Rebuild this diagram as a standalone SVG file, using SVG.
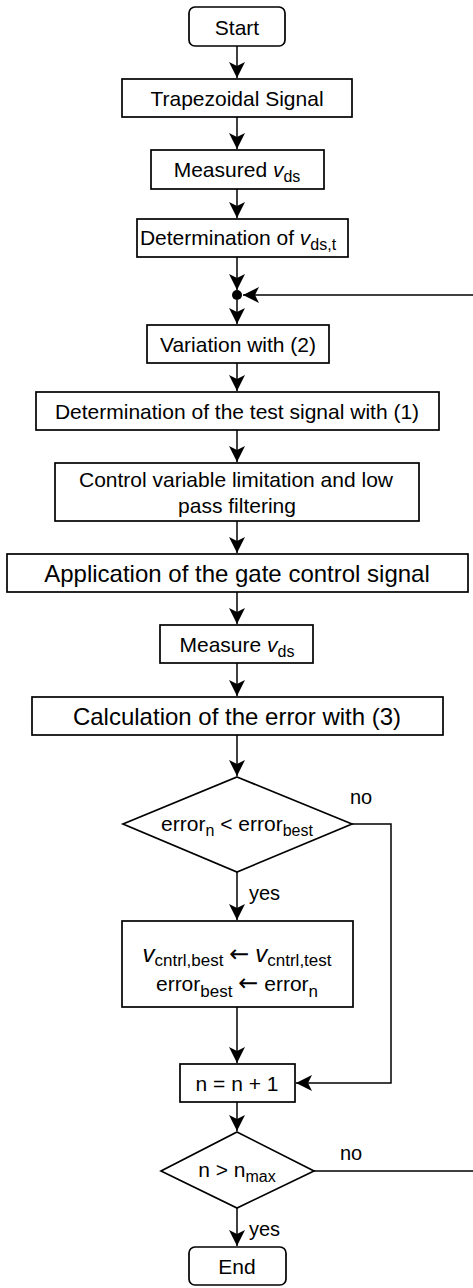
<svg xmlns="http://www.w3.org/2000/svg" width="473" height="1288" viewBox="0 0 473 1288">
<defs>
<style>
.box{fill:#fff;stroke:#000;stroke-width:1.7}
.ln{fill:none;stroke:#000;stroke-width:1.5}
.t{font-family:"Liberation Sans",Arial,"DejaVu Sans",sans-serif;font-size:21px;fill:#000;text-anchor:middle}
.big{font-size:24px}
.l{font-family:"Liberation Sans",Arial,"DejaVu Sans",sans-serif;font-size:20px;fill:#000}
.i{font-style:italic}
.s{font-size:16px}
.s2{font-size:17px}
.ar{font-family:"DejaVu Sans",sans-serif;font-size:24px}
</style>
<marker id="ah" markerUnits="userSpaceOnUse" markerWidth="18" markerHeight="16" viewBox="0 0 18 16" refX="16" refY="8" orient="auto">
<path d="M0,0 L16,8 L0,16 L4,8 Z" fill="#000"/>
</marker>
</defs>
<g id="connectors">
<line class="ln" x1="237" y1="46" x2="237" y2="78" marker-end="url(#ah)"/>
<line class="ln" x1="237" y1="117" x2="237" y2="149" marker-end="url(#ah)"/>
<line class="ln" x1="237" y1="189" x2="237" y2="218" marker-end="url(#ah)"/>
<line class="ln" x1="237" y1="257" x2="237" y2="290" marker-end="url(#ah)"/>
<line class="ln" x1="237" y1="300" x2="237" y2="324" marker-end="url(#ah)"/>
<line class="ln" x1="237" y1="363" x2="237" y2="391" marker-end="url(#ah)"/>
<line class="ln" x1="237" y1="430" x2="237" y2="462" marker-end="url(#ah)"/>
<line class="ln" x1="237" y1="521" x2="237" y2="553" marker-end="url(#ah)"/>
<line class="ln" x1="237" y1="592" x2="237" y2="624" marker-end="url(#ah)"/>
<line class="ln" x1="237" y1="663" x2="237" y2="696" marker-end="url(#ah)"/>
<line class="ln" x1="237" y1="735" x2="237" y2="776" marker-end="url(#ah)"/>
<line class="ln" x1="237" y1="872" x2="237" y2="920" marker-end="url(#ah)"/>
<line class="ln" x1="237" y1="1007" x2="237" y2="1063" marker-end="url(#ah)"/>
<polyline class="ln" points="352,824 391,824 391,1083 296,1083" marker-end="url(#ah)"/>
<line class="ln" x1="237" y1="1102" x2="237" y2="1131" marker-end="url(#ah)"/>
<line class="ln" x1="237" y1="1208" x2="237" y2="1246" marker-end="url(#ah)"/>
<line class="ln" x1="314" y1="1171" x2="473" y2="1171"/>
<line class="ln" x1="473" y1="295" x2="243" y2="295" marker-end="url(#ah)"/>
<circle cx="237" cy="295" r="5" fill="#000"/>
<text class="l" x="350" y="804">no</text>
<text class="l" x="249" y="900">yes</text>
<text class="l" x="340" y="1160">no</text>
<text class="l" x="249" y="1236">yes</text>
</g>
<g id="start">
<rect class="box" x="189" y="7" width="96" height="39" rx="6"/>
<text class="t" x="237" y="34.5">Start</text>
</g>
<g id="trapezoidal">
<rect class="box" x="122" y="79" width="230" height="38"/>
<text class="t" x="237" y="106">Trapezoidal Signal</text>
</g>
<g id="measured">
<rect class="box" x="151" y="150" width="173" height="39"/>
<text class="t" x="237" y="177">Measured <tspan class="i">v</tspan><tspan class="s" dy="5">ds</tspan></text>
</g>
<g id="determination-vdst">
<rect class="box" x="137" y="219" width="211" height="38"/>
<text class="t" x="238" y="245">Determination of <tspan class="i">v</tspan><tspan class="s" dy="5">ds,t</tspan></text>
</g>
<g id="variation">
<rect class="box" x="147" y="325" width="182" height="38"/>
<text class="t" x="238" y="352">Variation with (2)</text>
</g>
<g id="test-signal">
<rect class="box" x="36" y="392" width="403" height="38"/>
<text class="t" x="237" y="419">Determination of the test signal with (1)</text>
</g>
<g id="limitation">
<rect class="box" x="55" y="463" width="364" height="58"/>
<text class="t" x="236" y="487">Control variable limitation and low</text>
<text class="t" x="237" y="513">pass filtering</text>
</g>
<g id="application">
<rect class="box" x="7" y="554" width="461" height="38"/>
<text class="t big" x="237" y="582">Application of the gate control signal</text>
</g>
<g id="measure">
<rect class="box" x="160" y="625" width="153" height="38"/>
<text class="t" x="237" y="652">Measure <tspan class="i">v</tspan><tspan class="s" dy="5">ds</tspan></text>
</g>
<g id="calculation">
<rect class="box" x="32" y="697" width="411" height="38"/>
<text class="t big" x="237" y="725">Calculation of the error with (3)</text>
</g>
<g id="decision-error">
<polygon class="box" points="237,777 352,824 237,872 123,824"/>
<text class="t" x="237" y="831">error<tspan class="s" dy="5">n</tspan><tspan dy="-5"> &lt; error</tspan><tspan class="s" dy="5">best</tspan></text>
</g>
<g id="update">
<rect class="box" x="122" y="921" width="231" height="86"/>
<text class="t" x="237" y="962"><tspan class="i" font-size="24">v</tspan><tspan class="s2" dy="4">cntrl,best</tspan><tspan dy="-4"> </tspan><tspan class="ar">←</tspan><tspan> </tspan><tspan class="i" font-size="24">v</tspan><tspan class="s2" dy="4">cntrl,test</tspan></text>
<text class="t" x="237" y="991">error<tspan class="s2" dy="6">best</tspan><tspan dy="-6"> </tspan><tspan class="ar">←</tspan><tspan> error</tspan><tspan class="s2" dy="6">n</tspan></text>
</g>
<g id="increment">
<rect class="box" x="180" y="1064" width="115" height="38"/>
<text class="t" x="237" y="1091">n = n + 1</text>
</g>
<g id="decision-n">
<polygon class="box" points="237,1132 314,1171 237,1208 161,1171"/>
<text class="t" x="237" y="1177">n &gt; n<tspan class="s" dy="5">max</tspan></text>
</g>
<g id="end">
<rect class="box" x="189" y="1247" width="97" height="38" rx="6"/>
<text class="t" x="237" y="1274">End</text>
</g>
</svg>
